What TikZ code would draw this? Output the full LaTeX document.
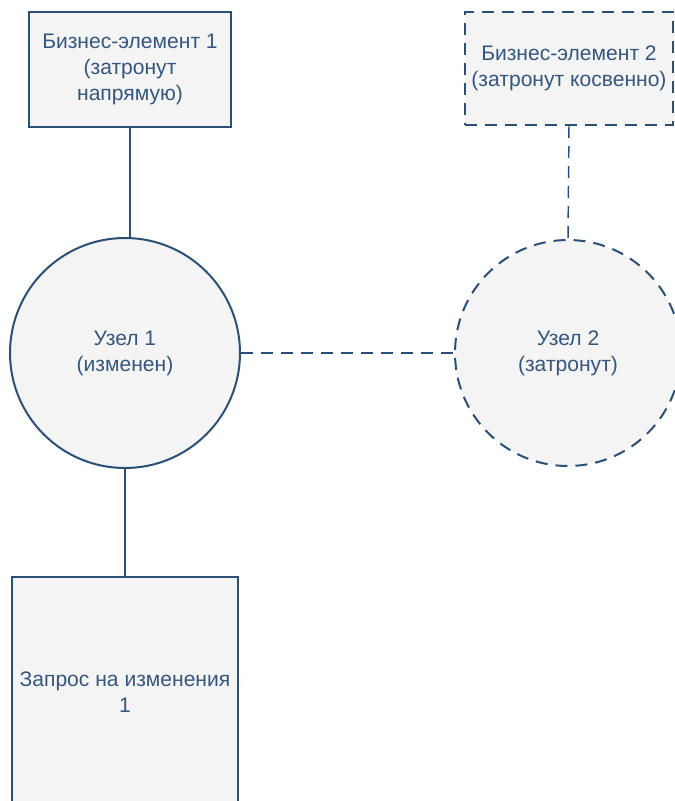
\documentclass[tikz,border=0pt]{standalone}
\usepackage{fontspec}
\setmainfont{Liberation Sans}
\usepackage{tikz}
\usetikzlibrary{positioning}
\definecolor{edgeblue}{HTML}{2B5078}
\definecolor{textblue}{HTML}{35577F}
\definecolor{boxfill}{HTML}{F4F4F4}

\begin{document}
\begin{tikzpicture}[x=0.75pt,y=-0.75pt,every node/.style={font=\fontsize{15.8pt}{19.5pt}\selectfont,text=textblue,align=center},
    elem/.style={draw=edgeblue,fill=boxfill,line width=1.5pt,inner sep=0pt},
    knot/.style={elem,circle},
    touched/.style={dash pattern=on 9pt off 6pt}]
    \useasboundingbox (0,0) rectangle (675,801);
    \node[elem,minimum width=151.5pt,minimum height=86.25pt] (b1) at (130,69.5) {Бизнес-элемент 1\\(затронут\\напрямую)};
    \node[elem,touched,minimum width=156pt,minimum height=84.75pt] (b2) at (569,68.5) {Бизнес-элемент 2\\(затронут косвенно)};
    \node[knot,minimum size=172.5pt] (u1) at (125,353) {Узел 1\\(изменен)};
    \node[knot,touched,minimum size=169.5pt] (u2) at (568,353) {Узел 2\\(затронут)};
    \node[elem,minimum width=169.5pt,minimum height=172.5pt] (z1) at (125,692) {Запрос на изменения\\1};
    \path[draw=edgeblue,line width=1.1pt]
     (b1.south) edge (b1.south |- u1.north)
     (u1.south) edge (z1.north)
     (u1.east) edge[touched] (u2.west)
     (b2.south) edge[touched] (u2.north);
\end{tikzpicture}
\end{document}
